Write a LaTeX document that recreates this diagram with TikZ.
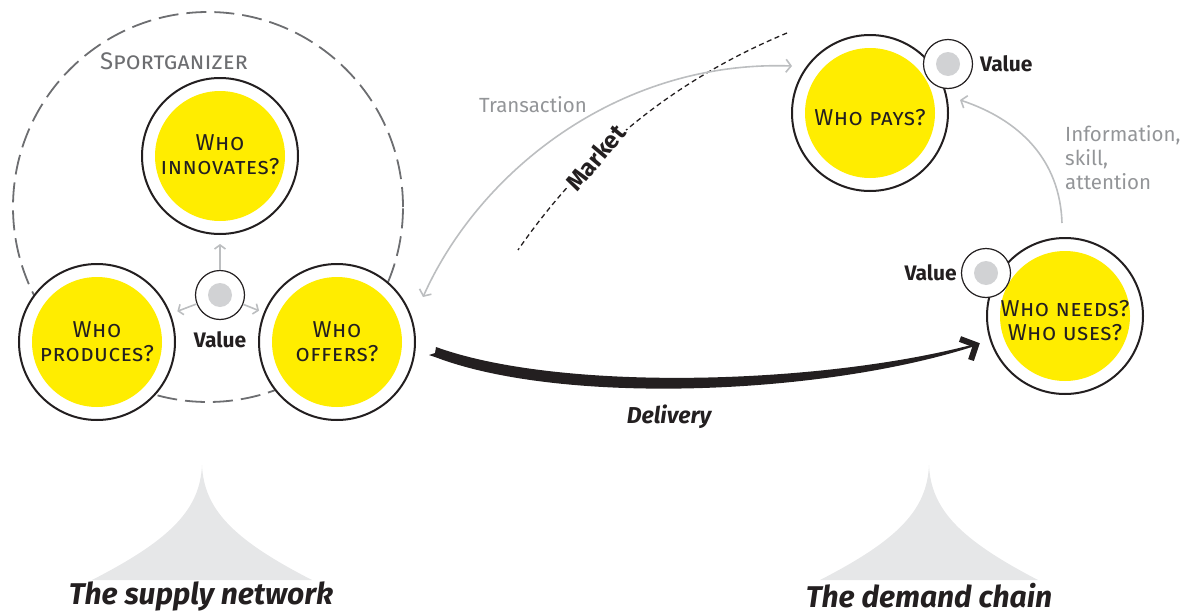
\documentclass[tikz,border=0pt]{standalone}
\usepackage{fontspec}
\setmainfont{Fira Sans}
\newfontfamily\scfont{Fira Sans}[Letters=SmallCaps, LetterSpace=2]
\newfontfamily\sportfont{Fira Sans}[Letters=SmallCaps]
\usetikzlibrary{arrows.meta,calc}
\definecolor{whoyellow}{HTML}{FFED00}
\definecolor{dotgray}{HTML}{D1D2D4}
\definecolor{tentgray}{HTML}{E6E7E8}
\definecolor{arrgray}{HTML}{BCBEC0}
\definecolor{txtgray}{HTML}{939598}
\definecolor{dashgray}{HTML}{6D6E71}
\definecolor{ink}{HTML}{231F20}
\begin{document}
\begin{tikzpicture}[x=1pt,y=-1pt,
 who/.style={circle, draw=ink, line width=2pt, fill=white, minimum size=156pt, inner sep=0pt, align=center, text=ink, font=\scfont\fontsize{23}{24}\selectfont, path picture={\fill[whoyellow] (path picture bounding box.center) circle (65pt);}},
 valc/.style={circle, draw=ink, line width=1.2pt, fill=white, minimum size=49pt, inner sep=0pt, path picture={\fill[dotgray] (path picture bounding box.center) circle (12pt);}},
 vallab/.style={font=\bfseries\fontsize{21}{24}\selectfont, text=ink, inner sep=1pt},
 graylab/.style={font=\fontsize{20.5}{24}\selectfont, text=txtgray, inner sep=0pt},
 garrow/.style={draw=arrgray, line width=1.6pt, -{Straight Barb[length=5pt,width=13pt]}},
 sarrow/.style={draw=arrgray, line width=1.6pt, -{Straight Barb[length=4pt,width=11pt]}},
 titlelab/.style={font=\bfseries\itshape\fontsize{30}{34}\selectfont, text=ink}
]
\path[use as bounding box] (0,0) rectangle (1187,616);
% tents
\fill[tentgray] (92,580) .. controls (170,540) and (200,510) .. (202,465) .. controls (204,510) and (234,540) .. (312,580) -- cycle;
\fill[tentgray] (820,580) .. controls (898,540) and (927,510) .. (929,465) .. controls (931,510) and (961,540) .. (1038,580) -- cycle;
\node[titlelab] (supply) at (201,596) {The supply network};
\node[titlelab] (demand) at (929,596) {The demand chain};
% organisation boundary
\node[circle, draw=dashgray, line width=1.8pt, dash pattern=on 20pt off 8pt, minimum size=390pt, inner sep=0pt] (org) at (208,207) {};
\node[font=\sportfont\fontsize{24}{28}\selectfont, text=dashgray] (sport) at (174,61) {Sportganizer};
% supply network
\node[who] (inn) at (220,156) {\raisebox{-2pt}[\height][\depth]{\begin{tabular}{@{}c@{}}Who\\innovates?\end{tabular}}};
\node[who] (prod) at (97,342) {Who\\produces?};
\node[who] (off) at (337,342) {Who\\offers?};
\node[valc] (valL) at (220,295) {};
\node[vallab] (valLlab) at (220,340) {Value};
\draw[sarrow, shorten >=9pt] (valL) -- (inn);
\draw[sarrow, shorten >=7pt] (valL) -- (prod);
\draw[sarrow, shorten >=5pt] (valL) -- (off);
% demand chain
\node[who] (pays) at (870,113) {\raisebox{-5pt}[\height][\depth]{Who pays?}};
\node[valc] (valP) at (948,64) {};
\node[vallab, anchor=west] (valPlab) at (979,64) {Value};
\node[who] (needs) at (1065,316) {\raisebox{-8pt}[\height][\depth]{\begin{tabular}{@{}c@{}}Who needs?\\Who uses?\end{tabular}}};
\node[valc] (valN) at (986,273) {};
\node[vallab, anchor=east] (valNlab) at (958,273) {Value};
% information arrow
\coordinate (iS) at (1062,223);
\coordinate (iE) at (960,100);
\draw[garrow] (iS) .. controls (1060,160) and (1020,120) .. (iE);
\node[graylab, align=left, anchor=west] (info) at (1065,158) {Information,\\skill,\\attention};
% market line
\coordinate (mS) at (787,33);
\coordinate (mE) at (518,250);
\draw[ink, line width=1.3pt, dash pattern=on 5pt off 3.5pt] (mS) .. controls (650,90) and (570,175) .. (mE)
  node[pos=0.6, rotate=50, fill=white, inner sep=2pt, font=\bfseries\fontsize{24}{26}\selectfont, text=ink] (market) {Market};
% transaction arrow
\coordinate (tS) at (423,297);
\coordinate (tE) at (792,66);
\draw[garrow, {Straight Barb[length=5pt,width=13pt]}-{Straight Barb[length=5pt,width=13pt]}] (tS) .. controls (480,170) and (620,60) .. (tE);
\node[graylab] (trans) at (533,105) {Transaction};
% delivery
\coordinate (dS) at (436,347);
\coordinate (dE) at (975,344);
\fill[ink] (dS) .. controls (560,392) and (820,385) .. (dE) -- (975,346) .. controls (820,396) and (560,405) .. (435,357) -- (429,355) -- (435,353) -- cycle;
\draw[ink, line width=6pt, line join=miter] (960,339) -- (976,345) -- (971,360);
\node[font=\bfseries\itshape\fontsize{23}{26}\selectfont, text=ink] (deliv) at (669,417) {Delivery};
\end{tikzpicture}
\end{document}
